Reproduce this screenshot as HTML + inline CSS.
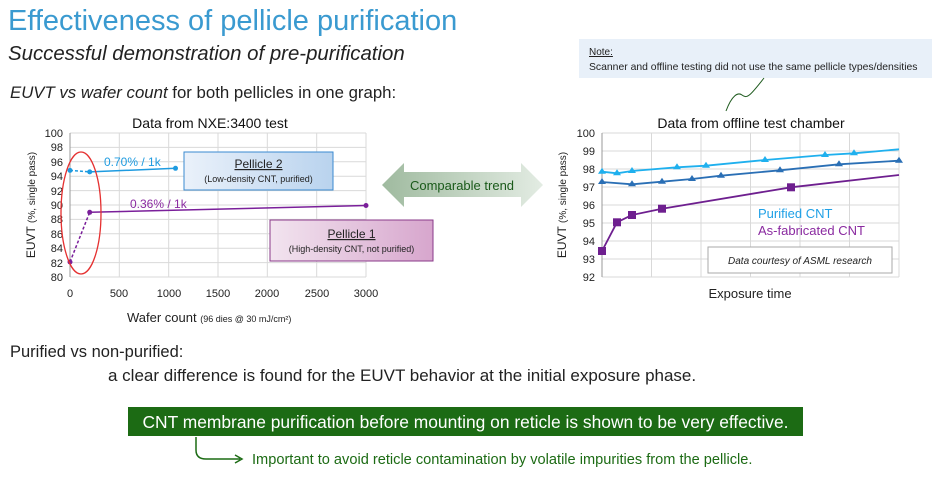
<!DOCTYPE html>
<html><head><meta charset="utf-8"><style>
html,body{margin:0;padding:0;background:#fff;}
svg text{font-family:"Liberation Sans",sans-serif;}
</style></head><body>
<svg width="932" height="486" viewBox="0 0 932 486" xmlns="http://www.w3.org/2000/svg">
<defs>
<linearGradient id="ga" x1="0" x2="1"><stop offset="0" stop-color="#9fba9f"/><stop offset="1" stop-color="#e3ece3"/></linearGradient>
<linearGradient id="gb" x1="0" x2="1"><stop offset="0" stop-color="#eaf1fa"/><stop offset="1" stop-color="#b9d3ee"/></linearGradient>
<linearGradient id="gp" x1="0" x2="1"><stop offset="0" stop-color="#f2e4ef"/><stop offset="1" stop-color="#d7a6cd"/></linearGradient>
</defs>
<text x="8" y="30" font-size="29" fill="#3a9ad0">Effectiveness of pellicle purification</text>
<text x="8" y="60" font-size="20.4" font-style="italic" fill="#222">Successful demonstration of pre-purification</text>
<text x="10" y="98" font-size="16.8" fill="#222"><tspan font-style="italic">EUVT vs wafer count</tspan> for both pellicles in one graph:</text>

<rect x="579" y="39" width="353" height="39" fill="#e8f0f9"/>
<text x="589" y="55" font-size="10" fill="#222" text-decoration="underline">Note:</text>
<text x="589" y="70" font-size="10.4" fill="#222">Scanner and offline testing did not use the same pellicle types/densities</text>
<path d="M726,111 C732,95 738,92 742,95 C747,99 750,96 764,78" fill="none" stroke="#1e5a1e" stroke-width="1"/>

<!-- left chart -->
<text x="210" y="128" font-size="14" fill="#111" text-anchor="middle">Data from NXE:3400 test</text>
<g stroke="#d9d9d9" stroke-width="1">
<line x1="70" y1="133" x2="366" y2="133"/><line x1="70" y1="147.4" x2="366" y2="147.4"/><line x1="70" y1="161.8" x2="366" y2="161.8"/><line x1="70" y1="176.2" x2="366" y2="176.2"/><line x1="70" y1="190.6" x2="366" y2="190.6"/><line x1="70" y1="205" x2="366" y2="205"/><line x1="70" y1="219.4" x2="366" y2="219.4"/><line x1="70" y1="233.8" x2="366" y2="233.8"/><line x1="70" y1="248.2" x2="366" y2="248.2"/><line x1="70" y1="262.6" x2="366" y2="262.6"/><line x1="70" y1="277" x2="366" y2="277"/>
<line x1="119.3" y1="133" x2="119.3" y2="277"/><line x1="168.7" y1="133" x2="168.7" y2="277"/><line x1="218" y1="133" x2="218" y2="277"/><line x1="267.3" y1="133" x2="267.3" y2="277"/><line x1="316.7" y1="133" x2="316.7" y2="277"/><line x1="366" y1="133" x2="366" y2="277"/>
<line x1="70" y1="133" x2="70" y2="277" stroke="#999"/>
</g>
<g font-size="11" fill="#222" text-anchor="end">
<text x="63" y="137">100</text><text x="63" y="151">98</text><text x="63" y="166">96</text><text x="63" y="180">94</text><text x="63" y="195">92</text><text x="63" y="209">90</text><text x="63" y="223">88</text><text x="63" y="238">86</text><text x="63" y="252">84</text><text x="63" y="267">82</text><text x="63" y="281">80</text>
</g>
<g font-size="11" fill="#222" text-anchor="middle">
<text x="70" y="297">0</text><text x="119" y="297">500</text><text x="169" y="297">1000</text><text x="218" y="297">1500</text><text x="267" y="297">2000</text><text x="317" y="297">2500</text><text x="366" y="297">3000</text>
</g>
<text x="127" y="322" font-size="13" fill="#222">Wafer count <tspan font-size="9">(96 dies @ 30 mJ/cm²)</tspan></text>
<text transform="translate(35,205) rotate(-90)" font-size="12" fill="#222" text-anchor="middle">EUVT <tspan font-size="10">(%, single pass)</tspan></text>
<line x1="70" y1="170.4" x2="89.7" y2="171.9" stroke="#1e9be0" stroke-width="1.5" stroke-dasharray="3,2"/>
<line x1="89.7" y1="171.9" x2="175.5" y2="168.3" stroke="#1e9be0" stroke-width="1.5"/>
<circle cx="70" cy="170.4" r="2.5" fill="#1e9be0"/><circle cx="89.7" cy="171.9" r="2.5" fill="#1e9be0"/><circle cx="175.5" cy="168.3" r="2.5" fill="#1e9be0"/>
<line x1="70" y1="262" x2="89.7" y2="212.3" stroke="#7a1f9a" stroke-width="1.5" stroke-dasharray="3,2"/>
<line x1="89.7" y1="212.3" x2="366" y2="205.5" stroke="#7a1f9a" stroke-width="1.5"/>
<circle cx="70" cy="262" r="2.5" fill="#7a1f9a"/><circle cx="89.7" cy="212.3" r="2.5" fill="#7a1f9a"/><circle cx="366" cy="205.5" r="2.5" fill="#7a1f9a"/>
<text x="104" y="166" font-size="12" fill="#1e9be0">0.70% / 1k</text>
<text x="130" y="208" font-size="12" fill="#8a2aa0">0.36% / 1k</text>
<ellipse cx="81" cy="213" rx="20" ry="61" fill="none" stroke="#e53030" stroke-width="1.3"/>
<rect x="184" y="152" width="149" height="38" fill="url(#gb)" stroke="#3a8ad0" stroke-width="1"/>
<text x="258.5" y="168" font-size="12" fill="#222" text-anchor="middle" text-decoration="underline">Pellicle 2</text>
<text x="258.5" y="182" font-size="9" fill="#222" text-anchor="middle">(Low-density CNT, purified)</text>
<rect x="270" y="220" width="163" height="41" fill="url(#gp)" stroke="#8a3a8a" stroke-width="1"/>
<text x="351.5" y="238" font-size="12" fill="#222" text-anchor="middle" text-decoration="underline">Pellicle 1</text>
<text x="351.5" y="252" font-size="9" fill="#222" text-anchor="middle">(High-density CNT, not purified)</text>

<!-- double arrow -->
<path d="M382,185 L404,163 L404,172 L521,172 L521,163 L543,185 L521,207 L521,197 L404,197 L404,207 Z" fill="url(#ga)"/>
<text x="462" y="190" font-size="13" fill="#1a5a1a" text-anchor="middle">Comparable trend</text>

<!-- right chart -->
<text x="751" y="128" font-size="14" fill="#111" text-anchor="middle">Data from offline test chamber</text>
<g stroke="#d9d9d9" stroke-width="1">
<line x1="602" y1="133" x2="899" y2="133"/><line x1="602" y1="151" x2="899" y2="151"/><line x1="602" y1="169" x2="899" y2="169"/><line x1="602" y1="187" x2="899" y2="187"/><line x1="602" y1="205" x2="899" y2="205"/><line x1="602" y1="223" x2="899" y2="223"/><line x1="602" y1="241" x2="899" y2="241"/><line x1="602" y1="259" x2="899" y2="259"/><line x1="602" y1="277" x2="899" y2="277"/>
<line x1="651.5" y1="133" x2="651.5" y2="277"/><line x1="701" y1="133" x2="701" y2="277"/><line x1="750.5" y1="133" x2="750.5" y2="277"/><line x1="800" y1="133" x2="800" y2="277"/><line x1="849.5" y1="133" x2="849.5" y2="277"/><line x1="899" y1="133" x2="899" y2="277"/>
<line x1="602" y1="133" x2="602" y2="277" stroke="#999"/>
</g>
<g font-size="11" fill="#222" text-anchor="end">
<text x="595" y="137">100</text><text x="595" y="155">99</text><text x="595" y="173">98</text><text x="595" y="191">97</text><text x="595" y="209">96</text><text x="595" y="227">95</text><text x="595" y="245">94</text><text x="595" y="263">93</text><text x="595" y="281">92</text>
</g>
<text x="750" y="298" font-size="13" fill="#222" text-anchor="middle">Exposure time</text>
<text transform="translate(566,205) rotate(-90)" font-size="12" fill="#222" text-anchor="middle">EUVT <tspan font-size="10">(%, single pass)</tspan></text>
<polyline points="602,171.7 617,173.3 632,171 677,167.3 706,165.7 765,160 825,155 854,153.3 899,149.3" fill="none" stroke="#1fb0ee" stroke-width="1.8"/>
<g fill="#1fb0ee">
<path d="M602,167.7 l4,6 h-8z"/><path d="M617,169.3 l4,6 h-8z"/><path d="M632,167 l4,6 h-8z"/><path d="M677,163.3 l4,6 h-8z"/><path d="M706,161.7 l4,6 h-8z"/><path d="M765,156 l4,6 h-8z"/><path d="M825,151 l4,6 h-8z"/><path d="M854,149.3 l4,6 h-8z"/>
</g>
<polyline points="602,182 632,184.3 662,181.7 692,179 721,175.7 780,170.3 839,164.3 899,160.7" fill="none" stroke="#2a6fb5" stroke-width="1.8"/>
<g fill="#2a6fb5">
<path d="M602,178 l4,6 h-8z"/><path d="M632,180.3 l4,6 h-8z"/><path d="M662,177.7 l4,6 h-8z"/><path d="M692,175 l4,6 h-8z"/><path d="M721,171.7 l4,6 h-8z"/><path d="M780,166.3 l4,6 h-8z"/><path d="M839,160.3 l4,6 h-8z"/><path d="M899,156.7 l4,6 h-8z"/>
</g>
<polyline points="602,251 617,222.3 632,215 662,208.7 791,187.3 899,175" fill="none" stroke="#6e1f8f" stroke-width="1.8"/>
<g fill="#6e1f8f">
<rect x="598" y="247" width="8" height="8"/><rect x="613" y="218.3" width="8" height="8"/><rect x="628" y="211" width="8" height="8"/><rect x="658" y="204.7" width="8" height="8"/><rect x="787" y="183.3" width="8" height="8"/>
</g>
<text x="758" y="218" font-size="13" fill="#1fa0e6">Purified CNT</text>
<text x="758" y="235" font-size="13" fill="#8a2aa0">As-fabricated CNT</text>
<rect x="708" y="247" width="184" height="26" fill="#fff" stroke="#aaa" stroke-width="1"/>
<text x="800" y="264" font-size="10" font-style="italic" fill="#222" text-anchor="middle">Data courtesy of ASML research</text>

<text x="10" y="357" font-size="16.5" fill="#222">Purified vs non-purified:</text>
<text x="108" y="381" font-size="17" fill="#222">a clear difference is found for the EUVT behavior at the initial exposure phase.</text>
<rect x="128" y="407" width="675" height="29" fill="#1c6b14"/>
<text x="465.5" y="428" font-size="17.4" fill="#fff" text-anchor="middle">CNT membrane purification before mounting on reticle is shown to be very effective.</text>
<path d="M196,437 V450 Q196,459 206,459 H240" fill="none" stroke="#1c6b14" stroke-width="1.5"/>
<path d="M235,455 L242,459 L235,463" fill="none" stroke="#1c6b14" stroke-width="1.5"/>
<text x="252" y="464" font-size="14.6" fill="#1c6b14">Important to avoid reticle contamination by volatile impurities from the pellicle.</text>
</svg>
</body></html>
